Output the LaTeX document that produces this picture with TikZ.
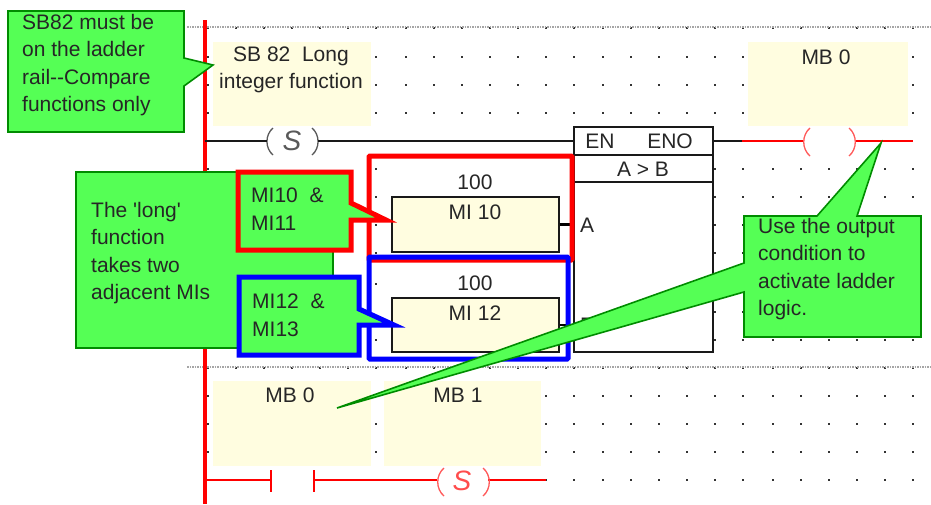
\documentclass[tikz,border=0pt]{standalone}
\usepackage{fontspec}
\setmainfont{Liberation Sans}
\newfontfamily\plainfont{Liberation Sans}
\usepackage{tikz}
\usetikzlibrary{positioning}
\definecolor{callgreen}{RGB}{85,255,85}

\begin{document}
\begin{tikzpicture}[
  x=1pt,y=-1pt,
  lbl/.style={font=\fontsize{21}{27.5}\selectfont,inner sep=0pt,align=center,text=black!85},
  notetext/.style={lbl,align=left,anchor=north west},
  coiltext/.style={lbl,font=\fontsize{28}{28}\selectfont\itshape},
  memo/.style={fill=yellow!12,draw=none,inner sep=0pt},
  minor/.style={draw=black!90,line width=1.4pt},
  relay/.style={draw=red,line width=1.3pt},
  arcblack/.style={draw=black!65,line width=1.3pt},
  arcred/.style={draw=red!65,line width=1.3pt},
  railline/.style={draw=red,line width=3.6pt},
  sep/.style={draw=black!35,line width=1.5pt,densely dotted},
  callout/.style={fill=callgreen,draw=green!55!black,line width=1.6pt},
  hilite/.style={line width=5pt,rounded corners=1pt},
]
\useasboundingbox (0,0) rectangle (931,504);
\fill[white] (0,0) rectangle (931,504);

% dot grid
\foreach \y in {28,57,85,113,368,396,424,452}
  \foreach \x in {208,236,264,292,320,348,376,406,434,462,490,518,546,574,603,631,659,687,715,743,773,801,829,857,885,913}
    \fill[black!80] (\x-1,\y-1) rectangle +(2,2);
\foreach \y in {169,197,225,253,284,340}
  \foreach \x in {208,376,715,743,773,801,829,857,885,913}
    \fill[black!80] (\x-1,\y-1) rectangle +(2,2);
\foreach \x in {546,574,603,631,659,687,715,743,773,801,829,857,885,913}
  \fill[black!80] (\x-1,479) rectangle +(2,2);
\foreach \x in {715,743,773,801,829,857,885,913}
  \fill[black!80] (\x-1,311) rectangle +(2,2);
\draw[sep] (187,27) -- (931,27);
\draw[sep] (187,367) -- (931,367);

% memo areas
\node[memo,minimum width=158pt,minimum height=84pt] (sbmemo) at (292,84) {};
\node[memo,minimum width=160pt,minimum height=84pt] (mbmemo) at (828,84) {};
\node[memo,minimum width=158pt,minimum height=85pt] (mbzero) at (292,423.5) {};
\node[memo,minimum width=157pt,minimum height=85pt] (mbone) at (462.5,423.5) {};
\node[lbl] (sbtext) at (291,70) {SB 82 ~Long\\integer function};
\node[lbl] (mbtext) at (826,57) {MB 0};
\node[lbl] (mbzerotext) at (290,395) {MB 0};
\node[lbl] (mbonetext) at (458,395) {MB 1};

% rail
\draw[railline] (205,20) -- (205,504);

% top rung
\coordinate (railtop) at (205,141);
\node[coiltext,text=black!65] (setcoil) at (292,141) {S};
\coordinate (setleft) at (267,141);
\coordinate (setright) at (318,141);
\draw[arcblack] (273,128) to[bend right=50] (273,155);
\draw[arcblack] (312,128) to[bend left=50] (312,155);
\draw[minor] (railtop) -- (setleft);
\node[minor,fill=white,minimum width=139pt,minimum height=225pt,inner sep=0pt] (fnblock) at (643.5,239.5) {};
\draw[minor] (setright) -- (setright -| fnblock.west);
\draw[minor] (575,155) -- (713,155);
\draw[minor] (575,182) -- (713,182);
\node[lbl] (entext) at (600,141) {EN};
\node[lbl] (enotext) at (670,141) {ENO};
\node[lbl] (cmptext) at (643,169) {A > B};
\node[lbl] (atext) at (587,225) {A};
\node[lbl] (btext) at (587,325) {B};

% output rung
\coordinate (outstart) at (742,141);
\coordinate (outend) at (913,141);
\coordinate (coilleft) at (803,141);
\coordinate (coilright) at (855,141);
\draw[minor] (fnblock.north east |- outstart) -- (outstart);
\draw[relay] (outstart) -- (coilleft);
\draw[relay] (coilright) -- (outend);
\draw[arcred] (810,128) to[bend right=50] (810,156);
\draw[arcred] (849,128) to[bend left=50] (849,156);

% operands
\node[minor,fill=yellow!12,minimum width=167pt,minimum height=55pt,inner sep=0pt] (miten) at (475.5,224.5) {};
\node[minor,fill=yellow!12,minimum width=167pt,minimum height=54pt,inner sep=0pt] (mitwelve) at (475.5,325) {};
\node[lbl] (hundreda) at (475,182) {100};
\node[lbl] (hundredb) at (475,283) {100};
\node[lbl] (mitentext) at (475,212) {MI 10};
\node[lbl] (mitwelvetext) at (475,313) {MI 12};
\draw[draw=black,line width=2.4pt] (miten.east) -- ++(13,0);
\draw[draw=black,line width=2.4pt] (mitwelve.east) -- ++(13,0);

% highlight frames
\draw[hilite,draw=red] (369,156) rectangle (572,260);
\draw[hilite,draw=blue] (369,257) rectangle (568,359);

% bottom rung
\coordinate (railbot) at (205,480);
\coordinate (contacta) at (271,480);
\coordinate (contactb) at (314,480);
\coordinate (scoilleft) at (437,480);
\coordinate (scoilright) at (488,480);
\coordinate (botend) at (546,480);
\draw[relay] (railbot) -- (contacta);
\draw[relay] (contactb) -- (scoilleft);
\draw[relay] (scoilright) -- (botend);
\draw[relay,line width=1.6pt] (271,470) -- (271,492);
\draw[relay,line width=1.6pt] (314,470) -- (314,492);
\draw[arcred] (444,468) to[bend right=50] (444,496);
\draw[arcred] (483,468) to[bend left=50] (483,496);
\node[coiltext,text=red!70] (setcoilb) at (462,481) {S};

% callouts
\draw[callout] (8,11) -- (184,11) -- (184,58) -- (213,65) -- (184,86) -- (184,132) -- (8,132) -- cycle;
\node[notetext] (railnote) at (22,14) {SB82 must be\\on the ladder\\rail{-}{-}Compare\\functions only};
\draw[callout] (76,172) rectangle (333,348);
\node[notetext] (longnote) at (91,202) {The {\plainfont 'long'}\\function\\takes two\\adjacent MIs};
\draw[callout,draw=red,line width=5pt,miter limit=6] (238,172) -- (351,172) -- (351,203) -- (386,220) -- (351,220) -- (351,250) -- (238,250) -- cycle;
\node[notetext] (miaxnote) at (251,188) {MI10 ~\&\\MI11};
\draw[callout,draw=blue,line width=5pt,miter limit=6] (239,277) -- (359,277) -- (359,309) -- (394,325) -- (359,325) -- (359,355) -- (239,355) -- cycle;
\node[notetext] (mibxnote) at (252,294) {MI12 ~\&\\MI13};
\draw[callout] (744,216) -- (817,216) -- (881,143) -- (857,216) -- (921,216) -- (921,337) -- (744,337) -- (744,292) -- (337,408) -- (744,263) -- cycle;
\node[notetext] (outnote) at (758,218) {Use the output\\condition to\\activate ladder\\logic.};
\end{tikzpicture}
\end{document}
